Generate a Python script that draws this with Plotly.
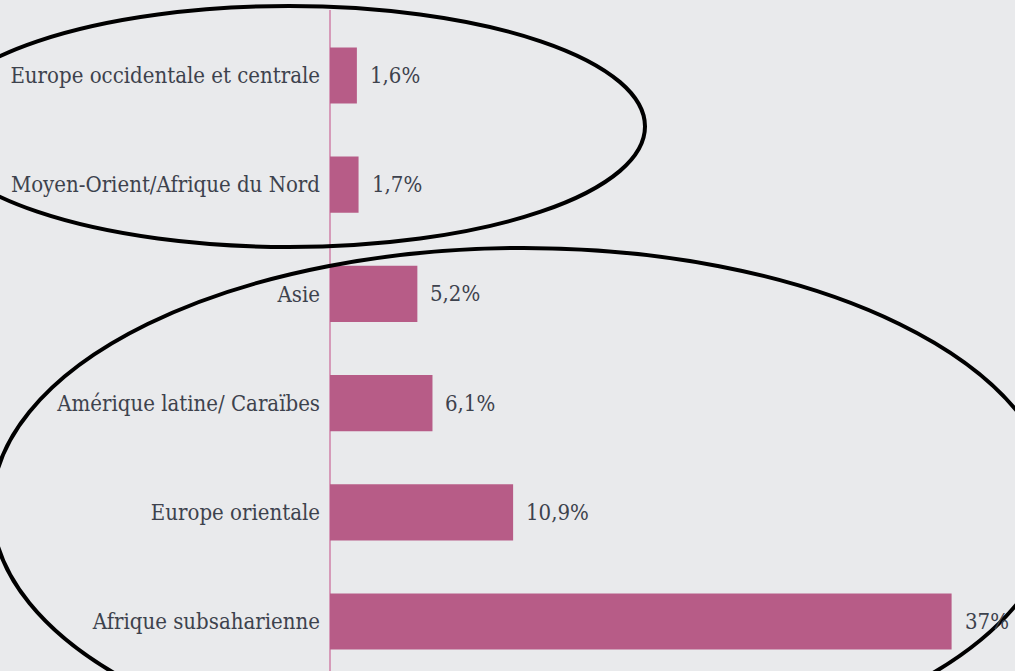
import plotly.graph_objects as go

# Data
categories = [
    "Europe occidentale et centrale",
    "Moyen-Orient/Afrique du Nord",
    "Asie",
    "Amérique latine/ Caraïbes",
    "Europe orientale",
    "Afrique subsaharienne",
]
values = [1.6, 1.7, 5.2, 6.1, 10.9, 37]
value_labels = ["1,6%", "1,7%", "5,2%", "6,1%", "10,9%", "37%"]

W, H = 1015, 671
BG = "#e9eaec"
BAR = "#b75c87"
TXT = "#3d424d"
FONT = "DejaVu Serif Condensed, DejaVu Serif, Liberation Serif, serif"
FS = 22

def px(x):
    return x / W

def py(y):
    return 1 - y / H

fig = go.Figure()
fig.add_trace(go.Bar(
    x=values, y=categories, orientation="h",
    marker=dict(color=BAR, line=dict(width=0)),
    width=0.515, hoverinfo="skip",
))

for v, lab, c in zip(values, value_labels, categories):
    fig.add_annotation(x=v, y=c, text=lab, showarrow=False, xanchor="left",
                       xshift=11, font=dict(family=FONT, size=FS, color=TXT))

# axis line
fig.add_shape(type="line", xref="paper", yref="paper",
              x0=px(330), x1=px(330), y0=0, y1=py(10),
              line=dict(color="#cf80a8", width=1.5), layer="below")

# hand-drawn ellipses
fig.add_shape(type="circle", xref="paper", yref="paper",
              x0=px(-67), x1=px(645), y0=py(247), y1=py(6),
              line=dict(color="black", width=4))
fig.add_shape(type="circle", xref="paper", yref="paper",
              x0=px(-8), x1=px(1055), y0=py(767), y1=py(248),
              line=dict(color="black", width=4))

spacing = 109.2
c0 = 75.5
top = 0 - c0 / spacing
bottom = top + H / spacing

fig.update_layout(
    width=W, height=H,
    margin=dict(l=0, r=0, t=0, b=0),
    paper_bgcolor=BG, plot_bgcolor=BG,
    showlegend=False,
    xaxis=dict(domain=[330 / W, 1], range=[0, (W - 330) / 16.8],
               visible=False, showgrid=False, zeroline=False),
    yaxis=dict(range=[bottom, top], showgrid=False, zeroline=False,
               showline=False, automargin=False, ticks="",
               ticklabelstandoff=9,
               tickfont=dict(family=FONT, size=FS, color=TXT)),
)

fig.write_html(
    "out.html",
    config={"displayModeBar": False},
    post_script="document.body.style.margin='0';document.body.style.background='%s';" % BG,
)
